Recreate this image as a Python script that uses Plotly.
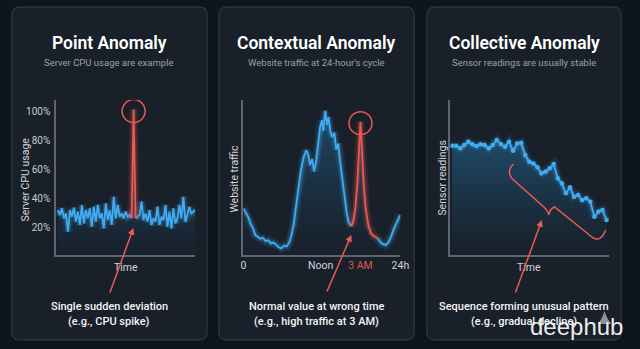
import plotly.graph_objects as go

W, H = 640, 349
BG = "#0f151d"
PANEL = "#19202a"
BORDER = "#363e49"
BLUE = "#42acf2"
RED = "#ea5a51"
AXIS = "#5d6672"
TICK = "#c5cbd3"
SUB = "#98a1ab"

# ---------------- data ----------------
# Point anomaly: server CPU usage (%)
cpu_before = [31.7, 28.3, 32.9, 26.0, 29.4, 16.8, 31.7, 27.1, 33.3, 23.7,
              30.6, 21.4, 35.2, 22.5, 31.7, 26.0, 32.9, 20.2, 34.0, 23.7,
              35.2, 26.0, 29.4, 19.1, 36.3, 24.8, 31.7, 21.4, 40.9, 26.0,
              35.2, 27.1, 29.4, 26.0, 30.6, 27.1, 28.3, 26.0]
cpu_spike = 101.0
cpu_after = [26.0, 27.1, 28.3, 37.5, 24.8, 29.4, 23.7, 31.7, 21.4, 26.0,
             23.7, 34.0, 21.4, 27.1, 24.8, 35.2, 20.2, 30.6, 19.1, 32.9,
             22.5, 26.0, 35.2, 26.0, 40.9, 23.5, 29.4, 33.8, 29.4, 30.6, 31.7]
cpu_ticks = [20, 40, 60, 80, 100]
cpu_ticktext = ["20%", "40%", "60%", "80%", "100%"]

# Contextual anomaly: website traffic over a 24-hour cycle
traffic_hours = [0.0, 0.4, 0.8, 1.1, 1.5, 1.8, 2.2, 2.6, 3.0, 3.4, 3.8, 4.2, 4.6,
                 5.0, 5.4, 5.8, 6.2, 6.6, 7.0, 7.3, 7.7, 8.0, 8.4, 8.8, 9.2, 9.6,
                 9.9, 10.2, 10.5, 10.8, 11.1, 11.4, 11.7, 12.0, 12.2, 12.5, 12.8,
                 13.0, 13.3, 13.6, 13.9, 14.2, 14.5, 14.8, 15.1, 15.4, 15.8, 16.1,
                 16.5, 16.8, 17.1, 17.4, 17.6, 17.9, 18.2, 18.4, 18.7, 19.1, 19.5,
                 20.0, 20.5, 20.9, 21.3, 21.8, 22.2, 22.6, 23.0, 23.5, 24.0]
traffic = [30, 27, 24, 20, 17, 13, 12, 10.5, 11, 9, 9.5, 7.5, 8,
           6.5, 5, 4.3, 6, 5.5, 8, 12, 20, 30, 42, 55, 63, 67.5,
           65, 58, 62, 54, 60, 70, 82, 87, 80, 93, 84,
           89, 80, 76, 79, 68, 72, 60, 50, 38, 27, 21,
           18.5, 22, 30, 45, 62, 86, 62, 45, 30, 19, 14,
           12, 11, 8.5, 7, 6.5, 8.5, 12, 17, 21, 25.8]
anomaly_start_h, anomaly_end_h = 16.5, 20.5
hour_ticks = [0, 11.8, 17.9, 24]
hour_ticktext = ["0", "Noon", "<span style='color:#e0564e'>3 AM</span>", "24h"]

# Collective anomaly: sensor readings
sensor = [70.5, 70.5, 68.8, 71.0, 73.1, 71.4, 70.3, 71.4, 71.0, 68.8,
          71.0, 74.2, 71.6, 69.9, 73.1, 67.3, 72.0, 72.5, 64.5, 60.2,
          59.1, 56.6, 52.7, 53.8, 55.9, 58.7, 49.5, 46.2, 39.8, 43.7,
          37.6, 38.7, 35.5, 36.6, 34.4, 24.7, 28.0, 29.0, 22.6]

# ---------------- helpers ----------------
def px(x):
    return x / W

def py(y):
    return 1 - y / H

def rrect(x0, y0, x1, y1, r):
    X0, X1 = px(x0), px(x1)
    Y0, Y1 = py(y0), py(y1)
    rx, ry = r / W, r / H
    return (f"M {X0+rx},{Y0} L {X1-rx},{Y0} Q {X1},{Y0} {X1},{Y0-ry} "
            f"L {X1},{Y1+ry} Q {X1},{Y1} {X1-rx},{Y1} L {X0+rx},{Y1} "
            f"Q {X0},{Y1} {X0},{Y1+ry} L {X0},{Y0-ry} Q {X0},{Y0} {X0+rx},{Y0} Z")

fig = go.Figure()

def glow_line(x, y, color, rgb, xa, ya, markers=False):
    for w, a in [(9, 0.10), (5, 0.22)]:
        fig.add_trace(go.Scatter(x=x, y=y, mode="lines", xaxis=xa, yaxis=ya,
                                 line=dict(color=f"rgba({rgb},{a})", width=w, shape="linear"),
                                 hoverinfo="skip", showlegend=False, connectgaps=False))
    fig.add_trace(go.Scatter(x=x, y=y, mode="lines+markers" if markers else "lines",
                             xaxis=xa, yaxis=ya,
                             line=dict(color=color, width=1.8),
                             marker=dict(size=4.5, color=color),
                             hoverinfo="skip", showlegend=False, connectgaps=False))

def fill_area(x, y, xa, ya, top, alpha):
    fig.add_trace(go.Scatter(x=x, y=y, mode="lines", xaxis=xa, yaxis=ya, fill="tozeroy",
                             line=dict(width=0, color="rgba(0,0,0,0)"),
                             fillgradient=dict(type="vertical", start=0, stop=top,
                                               colorscale=[[0, "rgba(30,110,160,0)"],
                                                           [1, f"rgba(40,140,200,{alpha})"]]),
                             hoverinfo="skip", showlegend=False))

# ---------------- chart 1 ----------------
cpu = cpu_before + [cpu_spike] + cpu_after
spike_i = len(cpu_before)
idx1 = list(range(len(cpu)))
fill_area(idx1, cpu, "x", "y", 45, 0.22)
cpu_blue = [v if i != spike_i else None for i, v in enumerate(cpu)]
glow_line(idx1, cpu_blue, BLUE, "66,172,242", "x", "y")
glow_line(idx1[spike_i - 1:spike_i + 2], cpu[spike_i - 1:spike_i + 2], RED, "234,90,81", "x", "y")

# ---------------- chart 2 ----------------
fill_area(traffic_hours, traffic, "x2", "y2", 95, 0.38)
blue_x, blue_y = [], []
for h, v in zip(traffic_hours, traffic):
    if h <= anomaly_start_h or h >= anomaly_end_h:
        blue_x.append(h); blue_y.append(v)
    elif not blue_x or blue_y[-1] is not None:
        blue_x.append(h); blue_y.append(None)
glow_line(blue_x, blue_y, BLUE, "66,172,242", "x2", "y2")
red_x = [h for h in traffic_hours if anomaly_start_h <= h <= anomaly_end_h]
red_y = [v for h, v in zip(traffic_hours, traffic) if anomaly_start_h <= h <= anomaly_end_h]
glow_line(red_x, red_y, RED, "234,90,81", "x2", "y2")
peak2_i = max(range(len(red_y)), key=lambda i: red_y[i])

# ---------------- chart 3 ----------------
idx3 = list(range(len(sensor)))
fill_area(idx3, sensor, "x3", "y3", 75, 0.40)
glow_line(idx3, sensor, BLUE, "66,172,242", "x3", "y3", markers=True)

# ---------------- layout ----------------
ydom = [py(255), py(100)]
axis_common = dict(showgrid=False, zeroline=False, showline=True, linecolor=AXIS,
                   linewidth=1.5, ticks="", fixedrange=True)
fig.update_layout(
    width=W, height=H, margin=dict(l=0, r=0, t=0, b=0),
    paper_bgcolor=BG, plot_bgcolor="rgba(0,0,0,0)",
    font=dict(family="Roboto", color=TICK, size=10),
    xaxis=dict(domain=[px(54), px(196)], range=[-1, len(cpu) - 1], anchor="y",
               showticklabels=False, **axis_common),
    yaxis=dict(domain=ydom, range=[0.7, 107.6], anchor="x", tickvals=cpu_ticks,
               ticktext=cpu_ticktext, tickfont=dict(size=10, color=TICK),
               ticklabelstandoff=2, **axis_common),
    xaxis2=dict(domain=[px(245), px(405)], range=[0, 24], anchor="y2",
                tickvals=hour_ticks, ticktext=hour_ticktext,
                tickfont=dict(size=10.5, color="#d0d5dc"), **axis_common),
    yaxis2=dict(domain=ydom, range=[0, 100], anchor="x2", showticklabels=False, **axis_common),
    xaxis3=dict(domain=[px(456), px(618)], range=[-0.4, len(sensor) - 0.3], anchor="y3",
                showticklabels=False, **axis_common),
    yaxis3=dict(domain=ydom, range=[0, 100], anchor="x3", showticklabels=False, **axis_common),
)

shapes = []
for x0, x1 in [(9, 208), (220, 419), (432, 630)]:
    shapes.append(dict(type="path", xref="paper", yref="paper", path=rrect(x0, 7, x1, 340, 8),
                       fillcolor=PANEL, line=dict(color=BORDER, width=1), layer="below"))

# highlight circles anchored to the anomaly peaks
shapes.append(dict(type="circle", xref="x", yref="y", xsizemode="pixel", ysizemode="pixel",
                   xanchor=spike_i, yanchor=cpu_spike, x0=-11.5, x1=11.5, y0=-13, y1=10,
                   line=dict(color=RED, width=1.5)))
shapes.append(dict(type="circle", xref="x2", yref="y2", xsizemode="pixel", ysizemode="pixel",
                   xanchor=red_x[peak2_i], yanchor=red_y[peak2_i], x0=-11.5, x1=11.5, y0=-13, y1=10,
                   line=dict(color=RED, width=1.5)))
# curly brace over the declining sequence
brace = ("M 15.1,58.7 Q 13.4,54.8 14.6,49.7 L 22.3,31.6 Q 23.5,29.0 23.8,25.8 "
         "Q 24.0,29.7 25.2,31.0 L 34.4,11.6 Q 36.5,7.7 37.8,16.1")
shapes.append(dict(type="path", xref="x3", yref="y3", path=brace,
                   line=dict(color=RED, width=1.5)))
# watermark drop
drop = f"M {px(613)},{py(311)} Q {px(610)},{py(320)} {px(606)},{py(324)} L {px(620)},{py(324)} Q {px(616)},{py(320)} {px(613)},{py(311)} Z"
shapes.append(dict(type="path", xref="paper", yref="paper", path=drop,
                   fillcolor="#8d939b", line=dict(width=0)))
fig.update_layout(shapes=shapes)

ann = []
def text(x, y, s, size, color, weight=400, angle=0, family="Roboto"):
    ann.append(dict(x=px(x), y=py(y), xref="paper", yref="paper", text=s, showarrow=False,
                    xanchor="center", yanchor="middle", textangle=angle,
                    font=dict(size=size, color=color, family=family, weight=weight)))

titles = [(108.5, "Point Anomaly", "Server CPU usage are example",
           "Single sudden deviation", "(e.g., CPU spike)"),
          (319.5, "Contextual Anomaly", "Website traffic at 24-hour's cycle",
           "Normal value at wrong time", "(e.g., high traffic at 3 AM)"),
          (531, "Collective Anomaly", "Sensor readings are usually stable",
           "Sequence forming unusual pattern", "(e.g., gradual decline)")]
for cx, t, s, b1, b2 in titles:
    text(cx, 43, t, 17.5, "#ffffff", 600)
    text(cx, 63, s, 9.5, SUB)
    text(cx, 306, b1, 11, "#f2f4f6", 500)
    text(cx, 321, b2, 11, "#f2f4f6", 500)

text(22, 180, "Server CPU usage", 10.5, "#d0d5dc", angle=-90)
text(235, 179, "Website traffic", 10.5, "#d0d5dc", angle=-90)
text(447, 178, "Sensor readings", 10.5, "#d0d5dc", angle=-90)
text(125, 267, "Time", 10.5, "#d0d5dc")
text(536, 267, "Time", 10.5, "#d0d5dc")

# arrows pointing at the anomalies
arrow = dict(showarrow=True, arrowhead=2, arrowsize=0.9, arrowwidth=1.5, arrowcolor=RED,
             axref="pixel", ayref="pixel", text="", standoff=0)
ann.append(dict(x=spike_i - 0.1, y=19.3, xref="x", yref="y", ax=-24, ay=66, **arrow))
ann.append(dict(x=anomaly_start_h, y=12.9, xref="x2", yref="y2", ax=-25, ay=58, **arrow))
ann.append(dict(x=22.1, y=22.6, xref="x3", yref="y3", ax=-27, ay=74, **arrow))

text(584, 326, "deephub", 24, "rgba(255,255,255,0.93)", 400, family="Liberation Sans")

fig.update_layout(annotations=ann)
fig.write_html("out.html")
